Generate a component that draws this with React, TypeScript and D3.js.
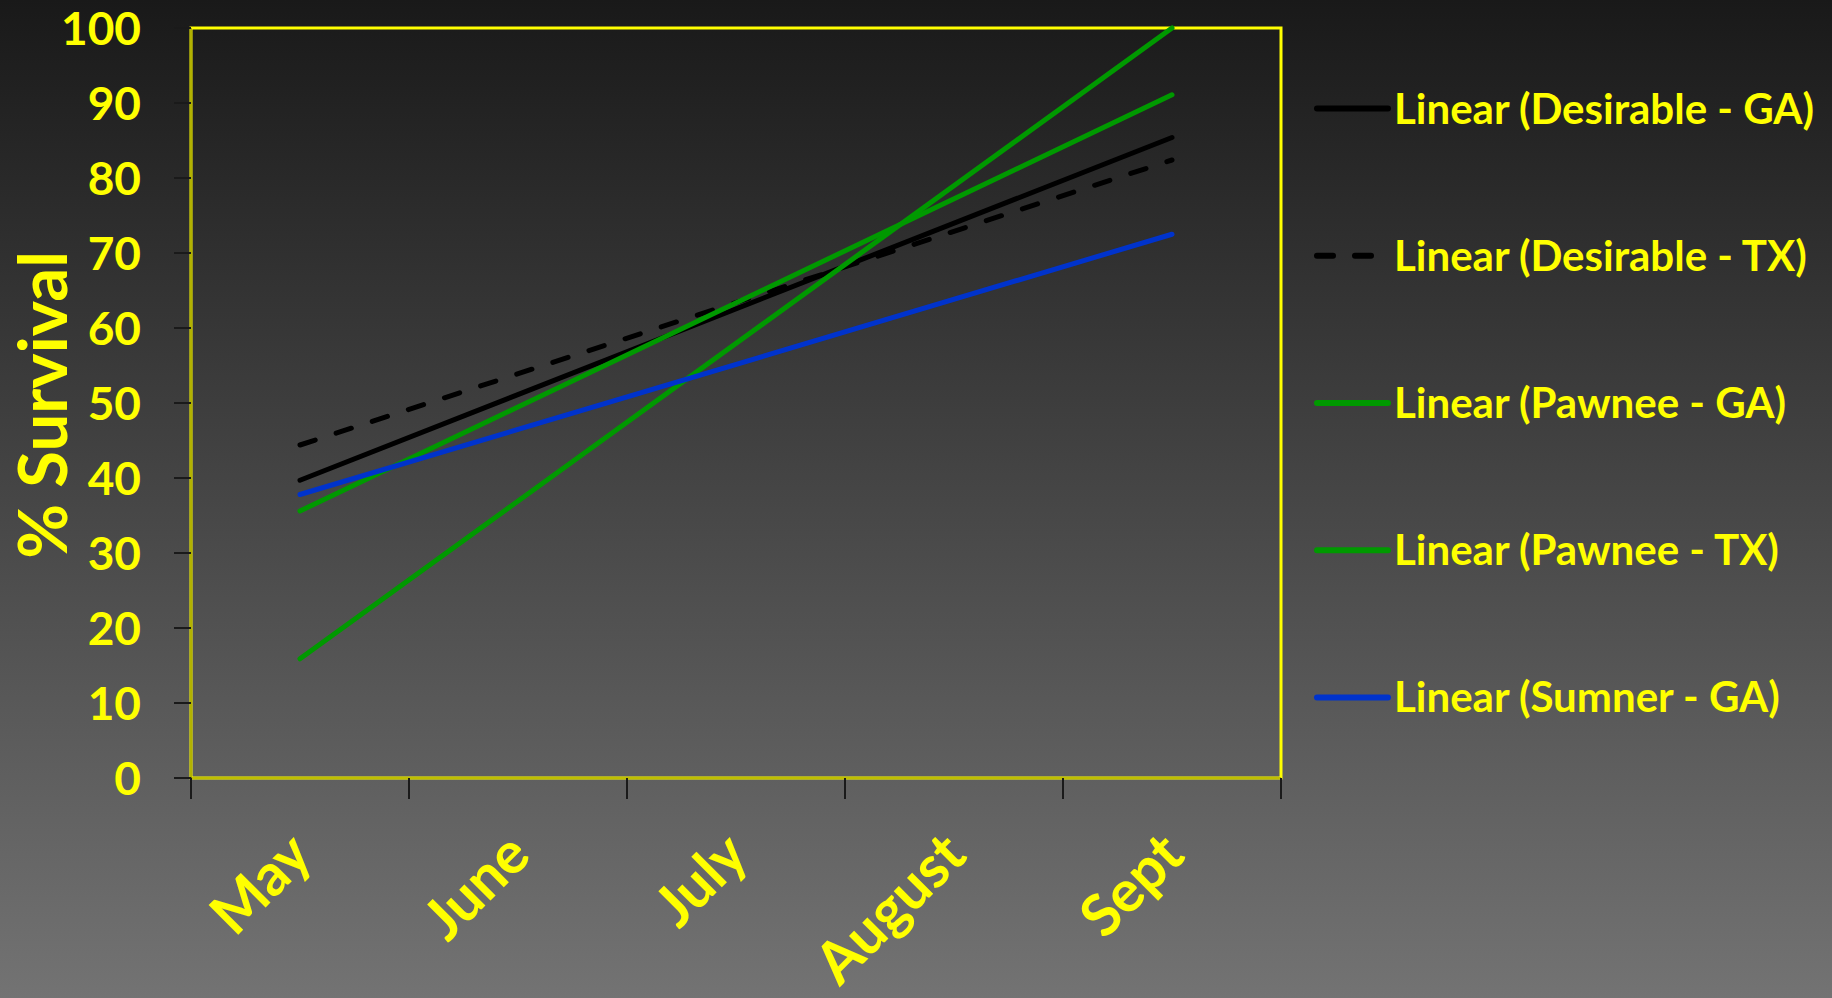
import React from "react";
import * as d3 from "d3";

// Months on the category axis
const months = ["May", "June", "July", "August", "Sept"];

// Trend-line series
const seriesNames = [
  "Linear (Desirable - GA)",
  "Linear (Desirable - TX)",
  "Linear (Pawnee - GA)",
  "Linear (Pawnee - TX)",
  "Linear (Sumner - GA)",
];
// Fitted % survival at the first month (May)
const trendStart = [39.7, 44.4, 35.6, 15.9, 37.8];
// Fitted % survival at the last month (Sept)
const trendEnd = [85.4, 82.4, 91.1, 100, 72.5];

// Y axis ticks
const yTicks = [0, 10, 20, 30, 40, 50, 60, 70, 80, 90, 100];

const seriesColors = ["#000000", "#000000", "#009900", "#009900", "#0033cc"];
const seriesDash = [null, "16,22", null, null, null];

const W = 1832;
const H = 998;
const plot = { left: 191, right: 1281, top: 28, bottom: 778 };
const FONT = "Lato, 'Open Sans', sans-serif";
const YELLOW = "#ffff00";

export default function App() {
  const x = d3
    .scaleBand<string>()
    .domain(months)
    .range([plot.left, plot.right])
    .padding(0);
  const y = d3.scaleLinear().domain([0, 100]).range([plot.bottom, plot.top]);
  const cx = (m: string) => (x(m) as number) + x.bandwidth() / 2;

  const line = d3
    .line<{ m: string; v: number }>()
    .x((d) => cx(d.m))
    .y((d) => y(d.v));

  const first = months[0];
  const last = months[months.length - 1];
  const boundaries = months.map((m) => x(m) as number).concat([plot.right]);

  const legendX0 = 1317;
  const legendX1 = 1388;
  const legendY0 = 108.6;
  const legendStep = 147.2;

  return (
    <svg
      width={W}
      height={H}
      style={{ position: "absolute", left: 0, top: 0, display: "block" }}
      fontFamily={FONT}
    >
      <defs>
        <linearGradient id="bg" x1="0" y1="0" x2="0" y2="1">
          <stop offset="0" stopColor="#191919" />
          <stop offset="1" stopColor="#737373" />
        </linearGradient>
      </defs>
      <rect x={0} y={0} width={W} height={H} fill="url(#bg)" />

      {/* plot frame */}
      <rect
        x={plot.left}
        y={plot.top}
        width={plot.right - plot.left}
        height={plot.bottom - plot.top}
        fill="none"
        stroke={YELLOW}
        strokeWidth={3}
      />
      {/* axis lines */}
      <line x1={plot.left} x2={plot.left} y1={plot.top} y2={plot.bottom} stroke="#000" strokeOpacity={0.6} strokeWidth={1} />
      <line x1={plot.left} x2={plot.right} y1={plot.bottom} y2={plot.bottom} stroke="#000" strokeOpacity={0.5} strokeWidth={1} />

      {/* y ticks and labels */}
      {yTicks.map((t) => (
        <g key={t}>
          <line x1={174} x2={plot.left} y1={y(t)} y2={y(t)} stroke="#1a1a1a" strokeWidth={2} />
          <text
            x={141}
            y={y(t)}
            dy="0.36em"
            textAnchor="end"
            fill={YELLOW}
            fontWeight={700}
            fontSize={46}
          >
            {t}
          </text>
        </g>
      ))}

      {/* x ticks at category boundaries */}
      {boundaries.map((b, i) => (
        <line key={i} x1={b} x2={b} y1={plot.bottom} y2={plot.bottom + 21} stroke="#1a1a1a" strokeWidth={2} />
      ))}

      {/* x labels, rotated */}
      {months.map((m) => (
        <text
          key={m}
          transform={`translate(${cx(m) + 15},${858}) rotate(-45)`}
          textAnchor="end"
          fill={YELLOW}
          fontWeight={700}
          fontSize={58}
        >
          {m}
        </text>
      ))}

      {/* y axis title */}
      <text
        transform={`translate(67,${405}) rotate(-90)`}
        textAnchor="middle"
        fill={YELLOW}
        fontWeight={700}
        fontSize={67}
      >
        % Survival
      </text>

      {/* trend lines */}
      {seriesNames.map((s, i) => (
        <path
          key={s}
          d={
            line([
              { m: first, v: trendStart[i] },
              { m: last, v: trendEnd[i] },
            ]) as string
          }
          fill="none"
          stroke={seriesColors[i]}
          strokeWidth={5}
          strokeLinecap="round"
          strokeDasharray={seriesDash[i] ?? undefined}
        />
      ))}

      {/* legend */}
      {seriesNames.map((s, i) => {
        const ly = legendY0 + i * legendStep;
        return (
          <g key={s}>
            <line
              x1={legendX0}
              x2={legendX1}
              y1={ly}
              y2={ly}
              stroke={seriesColors[i]}
              strokeWidth={6}
              strokeLinecap="round"
              strokeDasharray={seriesDash[i] ?? undefined}
            />
            <text
              x={1394}
              y={ly + 15}
              fill={YELLOW}
              fontWeight={700}
              fontSize={42}
            >
              {s}
            </text>
          </g>
        );
      })}
    </svg>
  );
}
